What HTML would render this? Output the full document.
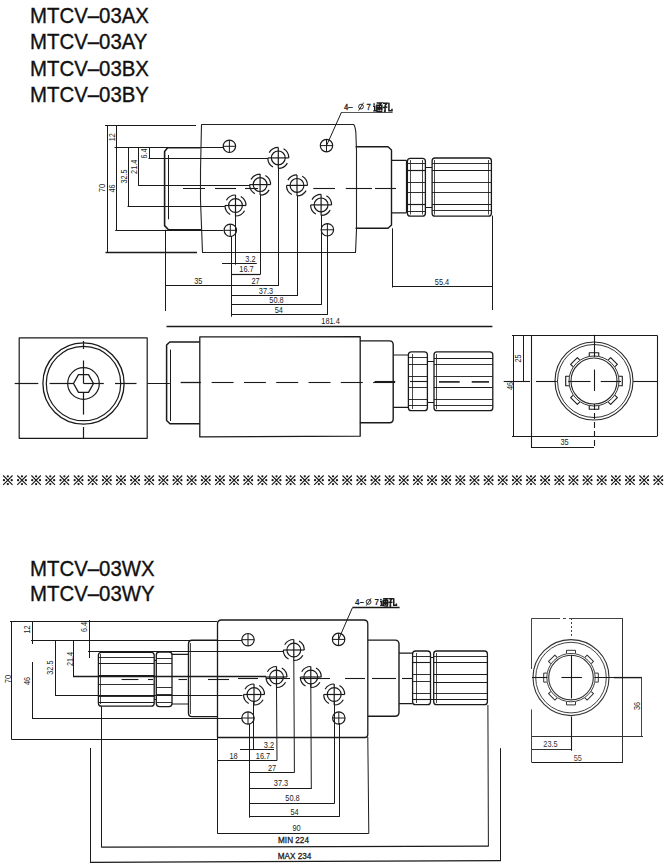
<!DOCTYPE html>
<html><head><meta charset="utf-8"><style>
html,body{margin:0;padding:0;background:#fff;width:665px;height:867px;overflow:hidden}
.t{position:absolute;left:30px;font-family:"Liberation Sans",sans-serif;font-size:21.5px;transform:scaleX(0.948);transform-origin:0 0;color:#111;white-space:nowrap;line-height:1;-webkit-text-stroke:0.35px #111}
svg{position:absolute;left:0;top:0}
</style></head><body>
<svg width="665" height="867" viewBox="0 0 665 867" font-family="Liberation Sans, sans-serif">
<line x1="105.00" y1="125.50" x2="196.00" y2="125.50" stroke="#1a1a1a" stroke-width="1.2"/>
<line x1="107.50" y1="125.30" x2="107.50" y2="252.30" stroke="#1a1a1a" stroke-width="1"/>
<line x1="105.50" y1="252.50" x2="197.00" y2="252.50" stroke="#1a1a1a" stroke-width="1.3"/>
<line x1="116.50" y1="125.30" x2="116.50" y2="230.90" stroke="#1a1a1a" stroke-width="1"/>
<line x1="114.50" y1="147.50" x2="223.00" y2="147.50" stroke="#1a1a1a" stroke-width="1"/>
<line x1="128.50" y1="147.50" x2="128.50" y2="206.00" stroke="#1a1a1a" stroke-width="1"/>
<line x1="127.50" y1="206.50" x2="225.00" y2="206.50" stroke="#1a1a1a" stroke-width="1.1"/>
<line x1="138.50" y1="147.50" x2="138.50" y2="185.80" stroke="#1a1a1a" stroke-width="1"/>
<line x1="138.50" y1="185.50" x2="250.00" y2="185.50" stroke="#1a1a1a" stroke-width="1.2"/>
<line x1="149.50" y1="147.50" x2="149.50" y2="158.40" stroke="#1a1a1a" stroke-width="1"/>
<line x1="148.50" y1="158.50" x2="268.00" y2="158.50" stroke="#1a1a1a" stroke-width="1"/>
<line x1="115.20" y1="230.50" x2="223.50" y2="230.50" stroke="#1a1a1a" stroke-width="1"/>
<text x="0" y="0" transform="translate(104.7 188) rotate(-90) scale(0.89 1)" font-size="8.5" text-anchor="middle" font-weight="normal" fill="#1a1a1a">70</text>
<text x="0" y="0" transform="translate(114.6 137.2) rotate(-90) scale(0.89 1)" font-size="8.2" text-anchor="middle" font-weight="normal" fill="#1a1a1a">12</text>
<text x="0" y="0" transform="translate(114.6 188.5) rotate(-90) scale(0.89 1)" font-size="8.2" text-anchor="middle" font-weight="normal" fill="#1a1a1a">46</text>
<text x="0" y="0" transform="translate(127 176.5) rotate(-90) scale(0.89 1)" font-size="8.2" text-anchor="middle" font-weight="normal" fill="#1a1a1a">32.5</text>
<text x="0" y="0" transform="translate(137 166.8) rotate(-90) scale(0.89 1)" font-size="8.2" text-anchor="middle" font-weight="normal" fill="#1a1a1a">21.4</text>
<text x="0" y="0" transform="translate(146.6 153.4) rotate(-90) scale(0.89 1)" font-size="8.2" text-anchor="middle" font-weight="normal" fill="#1a1a1a">6.4</text>
<path d="M200.5,147.8 L167.6,147.8 L164.6,151.4 L164.6,225.6 L168.5,229.7 L201,229.7" stroke="#1a1a1a" stroke-width="1.6" fill="none" stroke-linejoin="round"/>
<line x1="168.50" y1="155.00" x2="168.50" y2="219.30" stroke="#1a1a1a" stroke-width="1"/>
<line x1="183.00" y1="188.50" x2="205.00" y2="188.50" stroke="#1a1a1a" stroke-width="1"/>
<path d="M201.5,124.5 L353.6,124.5 Q355,125.5 355.8,132 L356.5,150 L356.5,230 L355.5,252.5 L202.5,252.5 L200.5,200 L200.5,170 Z" stroke="#222" stroke-width="1.1" fill="none" stroke-linejoin="round"/>
<line x1="215.00" y1="188.50" x2="236.00" y2="188.50" stroke="#1a1a1a" stroke-width="1.1"/>
<line x1="245.00" y1="188.50" x2="258.00" y2="188.50" stroke="#1a1a1a" stroke-width="1.1"/>
<line x1="313.30" y1="188.50" x2="335.00" y2="188.50" stroke="#1a1a1a" stroke-width="1.1"/>
<line x1="345.80" y1="188.50" x2="372.00" y2="188.50" stroke="#1a1a1a" stroke-width="1.1"/>
<line x1="375.00" y1="188.50" x2="396.00" y2="188.50" stroke="#1a1a1a" stroke-width="1.1"/>
<path d="M355.6,146.8 L388,146.8 L391.5,150 L391.5,225 L388,228.3 L355.6,228.3" stroke="#1a1a1a" stroke-width="1.4" fill="none" stroke-linejoin="round"/>
<path d="M391.5,160.3 L406.4,160.3 M391.5,212.9 L406.4,212.9" stroke="#1a1a1a" stroke-width="1.2" fill="none" stroke-linejoin="round"/>
<path d="M410.4,158.3 L422.4,158.3 Q425.4,158.3 425.4,161.3 L425.4,213.2 Q425.4,216.2 422.4,216.2 L410.4,216.2 Q407.4,216.2 407.4,213.2 L407.4,161.3 Q407.4,158.3 410.4,158.3 Z" stroke="#1a1a1a" stroke-width="1.3" fill="none" stroke-linejoin="round"/>
<line x1="410.50" y1="160.00" x2="410.50" y2="214.50" stroke="#1a1a1a" stroke-width="0.8"/>
<line x1="422.50" y1="160.00" x2="422.50" y2="214.50" stroke="#1a1a1a" stroke-width="0.8"/>
<line x1="406.50" y1="160.30" x2="406.50" y2="212.90" stroke="#1a1a1a" stroke-width="1.2"/>
<line x1="407.40" y1="163.50" x2="425.40" y2="163.50" stroke="#1a1a1a" stroke-width="0.9"/>
<line x1="407.40" y1="182.50" x2="425.40" y2="182.50" stroke="#1a1a1a" stroke-width="0.9"/>
<line x1="407.40" y1="192.50" x2="425.40" y2="192.50" stroke="#1a1a1a" stroke-width="0.9"/>
<line x1="407.40" y1="211.50" x2="425.40" y2="211.50" stroke="#1a1a1a" stroke-width="0.9"/>
<line x1="407.40" y1="170.50" x2="425.40" y2="170.50" stroke="#1a1a1a" stroke-width="1.2"/>
<line x1="407.40" y1="204.50" x2="425.40" y2="204.50" stroke="#1a1a1a" stroke-width="1.2"/>
<line x1="425.40" y1="167.50" x2="432.10" y2="167.50" stroke="#1a1a1a" stroke-width="1"/>
<line x1="425.40" y1="207.50" x2="432.10" y2="207.50" stroke="#1a1a1a" stroke-width="1"/>
<path d="M435.1,158 L488.4,158 Q491.4,158 491.4,161 L491.4,213.2 Q491.4,216.2 488.4,216.2 L435.1,216.2 Q432.1,216.2 432.1,213.2 L432.1,161 Q432.1,158 435.1,158 Z" stroke="#1a1a1a" stroke-width="1.3" fill="none" stroke-linejoin="round"/>
<line x1="434.50" y1="160.00" x2="434.50" y2="214.50" stroke="#1a1a1a" stroke-width="0.8"/>
<line x1="488.50" y1="160.00" x2="488.50" y2="214.50" stroke="#1a1a1a" stroke-width="0.8"/>
<line x1="432.10" y1="163.50" x2="491.40" y2="163.50" stroke="#1a1a1a" stroke-width="0.9"/>
<line x1="432.10" y1="182.50" x2="491.40" y2="182.50" stroke="#1a1a1a" stroke-width="0.9"/>
<line x1="432.10" y1="192.50" x2="491.40" y2="192.50" stroke="#1a1a1a" stroke-width="0.9"/>
<line x1="432.10" y1="210.50" x2="491.40" y2="210.50" stroke="#1a1a1a" stroke-width="0.9"/>
<line x1="432.10" y1="170.50" x2="491.40" y2="170.50" stroke="#1a1a1a" stroke-width="1.2"/>
<line x1="432.10" y1="204.50" x2="491.40" y2="204.50" stroke="#1a1a1a" stroke-width="1.2"/>
<circle cx="229.40" cy="146.30" r="6.20" stroke="#1a1a1a" stroke-width="1.2" fill="none"/>
<line x1="223.20" y1="146.30" x2="235.60" y2="146.30" stroke="#1a1a1a" stroke-width="1.0"/>
<line x1="229.40" y1="140.10" x2="229.40" y2="152.50" stroke="#1a1a1a" stroke-width="1.0"/>
<circle cx="326.50" cy="145.60" r="6.20" stroke="#1a1a1a" stroke-width="1.2" fill="none"/>
<line x1="320.30" y1="145.60" x2="332.70" y2="145.60" stroke="#1a1a1a" stroke-width="1.0"/>
<line x1="326.50" y1="139.40" x2="326.50" y2="151.80" stroke="#1a1a1a" stroke-width="1.0"/>
<circle cx="230.30" cy="230.30" r="6.20" stroke="#1a1a1a" stroke-width="1.2" fill="none"/>
<line x1="224.10" y1="230.30" x2="236.50" y2="230.30" stroke="#1a1a1a" stroke-width="1.0"/>
<line x1="230.30" y1="224.10" x2="230.30" y2="236.50" stroke="#1a1a1a" stroke-width="1.0"/>
<circle cx="327.40" cy="229.80" r="6.20" stroke="#1a1a1a" stroke-width="1.2" fill="none"/>
<line x1="321.20" y1="229.80" x2="333.60" y2="229.80" stroke="#1a1a1a" stroke-width="1.0"/>
<line x1="327.40" y1="223.60" x2="327.40" y2="236.00" stroke="#1a1a1a" stroke-width="1.0"/>
<circle cx="278.30" cy="157.90" r="6.90" stroke="#1a1a1a" stroke-width="1.2" fill="none"/>
<line x1="267.80" y1="157.90" x2="288.80" y2="157.90" stroke="#1a1a1a" stroke-width="1.2"/>
<line x1="278.30" y1="147.40" x2="278.30" y2="168.40" stroke="#1a1a1a" stroke-width="1.2"/>
<path d="M269.21,152.65 A10.5,10.5 0 0 1 278.30,147.40" stroke="#1a1a1a" stroke-width="1.2" fill="none" stroke-linejoin="round"/>
<path d="M283.55,148.81 A10.5,10.5 0 0 1 288.80,157.90" stroke="#1a1a1a" stroke-width="1.2" fill="none" stroke-linejoin="round"/>
<path d="M287.39,163.15 A10.5,10.5 0 0 1 278.30,168.40" stroke="#1a1a1a" stroke-width="1.2" fill="none" stroke-linejoin="round"/>
<path d="M273.05,166.99 A10.5,10.5 0 0 1 267.80,157.90" stroke="#1a1a1a" stroke-width="1.2" fill="none" stroke-linejoin="round"/>
<circle cx="260.10" cy="184.60" r="6.90" stroke="#1a1a1a" stroke-width="1.2" fill="none"/>
<line x1="249.60" y1="184.60" x2="270.60" y2="184.60" stroke="#1a1a1a" stroke-width="1.2"/>
<line x1="260.10" y1="174.10" x2="260.10" y2="195.10" stroke="#1a1a1a" stroke-width="1.2"/>
<path d="M251.01,179.35 A10.5,10.5 0 0 1 260.10,174.10" stroke="#1a1a1a" stroke-width="1.2" fill="none" stroke-linejoin="round"/>
<path d="M265.35,175.51 A10.5,10.5 0 0 1 270.60,184.60" stroke="#1a1a1a" stroke-width="1.2" fill="none" stroke-linejoin="round"/>
<path d="M269.19,189.85 A10.5,10.5 0 0 1 260.10,195.10" stroke="#1a1a1a" stroke-width="1.2" fill="none" stroke-linejoin="round"/>
<path d="M254.85,193.69 A10.5,10.5 0 0 1 249.60,184.60" stroke="#1a1a1a" stroke-width="1.2" fill="none" stroke-linejoin="round"/>
<circle cx="297.00" cy="185.40" r="6.90" stroke="#1a1a1a" stroke-width="1.2" fill="none"/>
<line x1="286.50" y1="185.40" x2="307.50" y2="185.40" stroke="#1a1a1a" stroke-width="1.2"/>
<line x1="297.00" y1="174.90" x2="297.00" y2="195.90" stroke="#1a1a1a" stroke-width="1.2"/>
<path d="M287.91,180.15 A10.5,10.5 0 0 1 297.00,174.90" stroke="#1a1a1a" stroke-width="1.2" fill="none" stroke-linejoin="round"/>
<path d="M302.25,176.31 A10.5,10.5 0 0 1 307.50,185.40" stroke="#1a1a1a" stroke-width="1.2" fill="none" stroke-linejoin="round"/>
<path d="M306.09,190.65 A10.5,10.5 0 0 1 297.00,195.90" stroke="#1a1a1a" stroke-width="1.2" fill="none" stroke-linejoin="round"/>
<path d="M291.75,194.49 A10.5,10.5 0 0 1 286.50,185.40" stroke="#1a1a1a" stroke-width="1.2" fill="none" stroke-linejoin="round"/>
<circle cx="235.50" cy="205.50" r="6.90" stroke="#1a1a1a" stroke-width="1.2" fill="none"/>
<line x1="225.00" y1="205.50" x2="246.00" y2="205.50" stroke="#1a1a1a" stroke-width="1.2"/>
<line x1="235.50" y1="195.00" x2="235.50" y2="216.00" stroke="#1a1a1a" stroke-width="1.2"/>
<path d="M226.41,200.25 A10.5,10.5 0 0 1 235.50,195.00" stroke="#1a1a1a" stroke-width="1.2" fill="none" stroke-linejoin="round"/>
<path d="M240.75,196.41 A10.5,10.5 0 0 1 246.00,205.50" stroke="#1a1a1a" stroke-width="1.2" fill="none" stroke-linejoin="round"/>
<path d="M244.59,210.75 A10.5,10.5 0 0 1 235.50,216.00" stroke="#1a1a1a" stroke-width="1.2" fill="none" stroke-linejoin="round"/>
<path d="M230.25,214.59 A10.5,10.5 0 0 1 225.00,205.50" stroke="#1a1a1a" stroke-width="1.2" fill="none" stroke-linejoin="round"/>
<circle cx="321.10" cy="204.90" r="6.90" stroke="#1a1a1a" stroke-width="1.2" fill="none"/>
<line x1="310.60" y1="204.90" x2="331.60" y2="204.90" stroke="#1a1a1a" stroke-width="1.2"/>
<line x1="321.10" y1="194.40" x2="321.10" y2="215.40" stroke="#1a1a1a" stroke-width="1.2"/>
<path d="M312.01,199.65 A10.5,10.5 0 0 1 321.10,194.40" stroke="#1a1a1a" stroke-width="1.2" fill="none" stroke-linejoin="round"/>
<path d="M326.35,195.81 A10.5,10.5 0 0 1 331.60,204.90" stroke="#1a1a1a" stroke-width="1.2" fill="none" stroke-linejoin="round"/>
<path d="M330.19,210.15 A10.5,10.5 0 0 1 321.10,215.40" stroke="#1a1a1a" stroke-width="1.2" fill="none" stroke-linejoin="round"/>
<path d="M315.85,213.99 A10.5,10.5 0 0 1 310.60,204.90" stroke="#1a1a1a" stroke-width="1.2" fill="none" stroke-linejoin="round"/>
<line x1="326.50" y1="145.60" x2="341.60" y2="112.00" stroke="#1a1a1a" stroke-width="1"/>
<line x1="341.60" y1="112.50" x2="392.60" y2="112.50" stroke="#555" stroke-width="1"/>
<text x="0" y="0" transform="translate(343.9 110.3) scale(0.89 1)" font-size="8.6" text-anchor="start" font-weight="normal" fill="#1a1a1a" stroke="#1a1a1a" stroke-width="0.35">4–</text>
<circle cx="361.00" cy="106.60" r="2.40" stroke="#1a1a1a" stroke-width="0.9" fill="none"/>
<line x1="358.60" y1="110.60" x2="363.60" y2="102.60" stroke="#1a1a1a" stroke-width="0.9"/>
<text x="0" y="0" transform="translate(366.6 110.3) scale(0.89 1)" font-size="8.6" text-anchor="start" font-weight="normal" fill="#1a1a1a" stroke="#1a1a1a" stroke-width="0.25">7</text>
<path transform="translate(372.80 102.30) scale(0.9600)" d="M0.8,1.2 L2,2.4 M0.3,4.2 L2,4.2 L2,8.2 M0.8,9.6 Q2,8 3,8.8 Q5,9.8 10,9.6 M4,0.8 L9,0.8 L7,2.4 M4.2,8.4 L4.2,3 L9.4,3 L9.4,8.6 M6.8,3 L6.8,8.4 M4.2,5.4 L9.4,5.4 M4.2,7 L9.4,7" stroke="#1a1a1a" stroke-width="1.56" fill="none"/>
<path transform="translate(382.59 102.30) scale(0.9600)" d="M0.4,1 L4.6,1 L2.6,3.2 M2.6,3.2 L2.6,9.6 L1.4,9 M0,5.4 L5,5 M6.6,0.4 L6.6,8.8 L9.8,8.8 L9.8,6.6" stroke="#1a1a1a" stroke-width="1.56" fill="none"/>
<line x1="165.50" y1="229.70" x2="165.50" y2="311.00" stroke="#1a1a1a" stroke-width="1"/>
<line x1="231.50" y1="236.00" x2="231.50" y2="316.70" stroke="#1a1a1a" stroke-width="1"/>
<line x1="235.50" y1="216.00" x2="235.50" y2="264.70" stroke="#1a1a1a" stroke-width="1"/>
<line x1="260.50" y1="195.00" x2="260.50" y2="274.30" stroke="#1a1a1a" stroke-width="1"/>
<line x1="278.50" y1="168.00" x2="278.50" y2="285.30" stroke="#1a1a1a" stroke-width="1"/>
<line x1="297.50" y1="196.00" x2="297.50" y2="295.30" stroke="#1a1a1a" stroke-width="1"/>
<line x1="321.50" y1="215.00" x2="321.50" y2="304.80" stroke="#1a1a1a" stroke-width="1"/>
<line x1="327.50" y1="236.00" x2="327.50" y2="314.80" stroke="#1a1a1a" stroke-width="1"/>
<line x1="222.00" y1="263.50" x2="256.80" y2="263.50" stroke="#1a1a1a" stroke-width="1"/>
<line x1="231.00" y1="274.50" x2="260.50" y2="274.50" stroke="#1a1a1a" stroke-width="1.2"/>
<line x1="165.80" y1="285.50" x2="279.00" y2="285.50" stroke="#1a1a1a" stroke-width="1.2"/>
<line x1="231.00" y1="295.50" x2="298.00" y2="295.50" stroke="#1a1a1a" stroke-width="1.2"/>
<line x1="231.00" y1="304.50" x2="321.50" y2="304.50" stroke="#1a1a1a" stroke-width="1.2"/>
<line x1="231.00" y1="314.50" x2="327.40" y2="314.50" stroke="#1a1a1a" stroke-width="1.2"/>
<line x1="166.50" y1="326.50" x2="492.40" y2="326.50" stroke="#1a1a1a" stroke-width="1.3"/>
<line x1="392.50" y1="228.30" x2="392.50" y2="287.50" stroke="#1a1a1a" stroke-width="1"/>
<line x1="492.50" y1="215.60" x2="492.50" y2="310.00" stroke="#1a1a1a" stroke-width="1"/>
<line x1="392.50" y1="286.50" x2="492.40" y2="286.50" stroke="#1a1a1a" stroke-width="1.2"/>
<text x="0" y="0" transform="translate(250.5 262.3) scale(0.89 1)" font-size="8.3" text-anchor="middle" font-weight="normal" fill="#1a1a1a">3.2</text>
<text x="0" y="0" transform="translate(246.5 272.3) scale(0.89 1)" font-size="8.3" text-anchor="middle" font-weight="normal" fill="#1a1a1a">16.7</text>
<text x="0" y="0" transform="translate(198.3 283.5) scale(0.89 1)" font-size="8.3" text-anchor="middle" font-weight="normal" fill="#1a1a1a">35</text>
<text x="0" y="0" transform="translate(255.5 283.5) scale(0.89 1)" font-size="8.3" text-anchor="middle" font-weight="normal" fill="#1a1a1a">27</text>
<text x="0" y="0" transform="translate(266 293.6) scale(0.89 1)" font-size="8.3" text-anchor="middle" font-weight="normal" fill="#1a1a1a">37.3</text>
<text x="0" y="0" transform="translate(276.5 303) scale(0.89 1)" font-size="8.3" text-anchor="middle" font-weight="normal" fill="#1a1a1a">50.8</text>
<text x="0" y="0" transform="translate(278.8 312.8) scale(0.89 1)" font-size="8.3" text-anchor="middle" font-weight="normal" fill="#1a1a1a">54</text>
<text x="0" y="0" transform="translate(330.5 324) scale(0.89 1)" font-size="8.3" text-anchor="middle" font-weight="normal" fill="#1a1a1a">181.4</text>
<text x="0" y="0" transform="translate(442 284.5) scale(0.89 1)" font-size="8.3" text-anchor="middle" font-weight="normal" fill="#1a1a1a">55.4</text>
<path d="M19.2,337.9 L147.2,337.9 L147.2,438.3 L19.2,438.3 Z" stroke="#1a1a1a" stroke-width="1.2" fill="none" stroke-linejoin="round"/>
<circle cx="83.50" cy="383.50" r="40.60" stroke="#1a1a1a" stroke-width="1.3" fill="none"/>
<circle cx="83.50" cy="383.50" r="37.20" stroke="#1a1a1a" stroke-width="1.2" fill="none"/>
<circle cx="83.50" cy="383.50" r="15.80" stroke="#1a1a1a" stroke-width="1.2" fill="none"/>
<path d="M93.50,383.50 L88.50,392.42 L78.50,392.42 L73.50,383.50 L78.50,374.58 L88.50,374.58 Z" stroke="#1a1a1a" stroke-width="1.3" fill="none" stroke-linejoin="round"/>
<line x1="14.70" y1="383.50" x2="38.30" y2="383.50" stroke="#1a1a1a" stroke-width="1.2"/>
<line x1="49.60" y1="383.50" x2="73.20" y2="383.50" stroke="#1a1a1a" stroke-width="1.2"/>
<line x1="83.50" y1="383.50" x2="103.80" y2="383.50" stroke="#1a1a1a" stroke-width="1.2"/>
<line x1="115.00" y1="383.50" x2="136.50" y2="383.50" stroke="#1a1a1a" stroke-width="1.2"/>
<line x1="83.50" y1="341.00" x2="83.50" y2="349.00" stroke="#1a1a1a" stroke-width="1.2"/>
<line x1="83.50" y1="360.50" x2="83.50" y2="383.50" stroke="#1a1a1a" stroke-width="1.2"/>
<line x1="83.50" y1="392.80" x2="83.50" y2="414.60" stroke="#1a1a1a" stroke-width="1.2"/>
<line x1="83.50" y1="427.00" x2="83.50" y2="438.00" stroke="#1a1a1a" stroke-width="1.2"/>
<line x1="147.20" y1="383.50" x2="169.80" y2="383.50" stroke="#1a1a1a" stroke-width="1"/>
<path d="M199.8,342 L169.8,342 L166.6,345 L166.6,420.5 L170,423.8 L199.8,423.8" stroke="#1a1a1a" stroke-width="1.5" fill="none" stroke-linejoin="round"/>
<line x1="170.50" y1="349.60" x2="170.50" y2="421.00" stroke="#1a1a1a" stroke-width="1"/>
<path d="M199.8,336.9 L360.2,336.6 L360.2,436.2 L199.8,436.9 Z" stroke="#1a1a1a" stroke-width="1.3" fill="none" stroke-linejoin="round"/>
<line x1="180.60" y1="382.50" x2="200.80" y2="382.50" stroke="#1a1a1a" stroke-width="1.3"/>
<line x1="211.60" y1="382.50" x2="233.60" y2="382.50" stroke="#1a1a1a" stroke-width="1.1"/>
<line x1="243.90" y1="382.50" x2="265.90" y2="382.50" stroke="#1a1a1a" stroke-width="1.1"/>
<line x1="276.20" y1="382.50" x2="298.20" y2="382.50" stroke="#1a1a1a" stroke-width="1.1"/>
<line x1="308.50" y1="382.50" x2="330.50" y2="382.50" stroke="#1a1a1a" stroke-width="1.1"/>
<line x1="340.80" y1="382.50" x2="362.80" y2="382.50" stroke="#1a1a1a" stroke-width="1.1"/>
<line x1="373.10" y1="382.50" x2="395.10" y2="382.50" stroke="#1a1a1a" stroke-width="1.1"/>
<path d="M359.9,340.9 L389.5,340.9 Q393.2,340.9 393.2,345 L393.2,418.7 Q393.2,422.7 389.5,422.7 L359.9,422.7" stroke="#1a1a1a" stroke-width="1.4" fill="none" stroke-linejoin="round"/>
<path d="M393.2,355 L408.4,355 M393.2,407.4 L408.4,407.4" stroke="#1a1a1a" stroke-width="1.2" fill="none" stroke-linejoin="round"/>
<path d="M411.4,351.8 L424.4,351.8 Q427.4,351.8 427.4,354.8 L427.4,407.7 Q427.4,410.7 424.4,410.7 L411.4,410.7 Q408.4,410.7 408.4,407.7 L408.4,354.8 Q408.4,351.8 411.4,351.8 Z" stroke="#1a1a1a" stroke-width="1.3" fill="none" stroke-linejoin="round"/>
<line x1="412.50" y1="354.00" x2="412.50" y2="409.00" stroke="#1a1a1a" stroke-width="0.8"/>
<line x1="408.40" y1="357.50" x2="427.40" y2="357.50" stroke="#1a1a1a" stroke-width="0.9"/>
<line x1="408.40" y1="364.50" x2="427.40" y2="364.50" stroke="#1a1a1a" stroke-width="0.9"/>
<line x1="408.40" y1="376.50" x2="427.40" y2="376.50" stroke="#1a1a1a" stroke-width="0.9"/>
<line x1="408.40" y1="387.50" x2="427.40" y2="387.50" stroke="#1a1a1a" stroke-width="0.9"/>
<line x1="408.40" y1="399.50" x2="427.40" y2="399.50" stroke="#1a1a1a" stroke-width="0.9"/>
<line x1="408.40" y1="405.50" x2="427.40" y2="405.50" stroke="#1a1a1a" stroke-width="0.9"/>
<line x1="427.40" y1="361.50" x2="434.00" y2="361.50" stroke="#1a1a1a" stroke-width="1"/>
<line x1="427.40" y1="402.50" x2="434.00" y2="402.50" stroke="#1a1a1a" stroke-width="1"/>
<path d="M437,351.8 L489.8,351.8 Q492.8,351.8 492.8,354.8 L492.8,407.7 Q492.8,410.7 489.8,410.7 L437,410.7 Q434,410.7 434,407.7 L434,354.8 Q434,351.8 437,351.8 Z" stroke="#1a1a1a" stroke-width="1.3" fill="none" stroke-linejoin="round"/>
<line x1="436.50" y1="354.00" x2="436.50" y2="409.00" stroke="#1a1a1a" stroke-width="0.8"/>
<line x1="434.00" y1="364.50" x2="492.80" y2="364.50" stroke="#1a1a1a" stroke-width="0.9"/>
<line x1="434.00" y1="376.50" x2="492.80" y2="376.50" stroke="#1a1a1a" stroke-width="0.9"/>
<line x1="434.00" y1="399.50" x2="492.80" y2="399.50" stroke="#1a1a1a" stroke-width="0.9"/>
<line x1="434.00" y1="405.50" x2="492.80" y2="405.50" stroke="#1a1a1a" stroke-width="0.9"/>
<line x1="434.00" y1="358.50" x2="492.80" y2="358.50" stroke="#1a1a1a" stroke-width="1.2"/>
<line x1="434.00" y1="387.50" x2="492.80" y2="387.50" stroke="#1a1a1a" stroke-width="1.2"/>
<line x1="439.00" y1="381.90" x2="459.70" y2="381.90" stroke="#1a1a1a" stroke-width="1.6"/>
<line x1="471.70" y1="381.90" x2="489.00" y2="381.90" stroke="#1a1a1a" stroke-width="1.6"/>
<line x1="410.00" y1="381.50" x2="427.40" y2="381.50" stroke="#1a1a1a" stroke-width="1.1"/>
<line x1="374.60" y1="381.50" x2="395.30" y2="381.50" stroke="#1a1a1a" stroke-width="1.1"/>
<line x1="531.20" y1="335.50" x2="657.40" y2="335.50" stroke="#1a1a1a" stroke-width="1.2"/>
<line x1="531.20" y1="436.50" x2="657.40" y2="436.50" stroke="#1a1a1a" stroke-width="1.2"/>
<line x1="531.50" y1="335.50" x2="531.50" y2="448.00" stroke="#1a1a1a" stroke-width="1.1"/>
<line x1="657.50" y1="335.50" x2="657.50" y2="436.00" stroke="#1a1a1a" stroke-width="1.1"/>
<line x1="512.00" y1="335.50" x2="531.60" y2="335.50" stroke="#1a1a1a" stroke-width="1"/>
<line x1="512.00" y1="436.50" x2="531.60" y2="436.50" stroke="#1a1a1a" stroke-width="1"/>
<line x1="513.50" y1="335.50" x2="513.50" y2="436.00" stroke="#1a1a1a" stroke-width="1"/>
<line x1="523.50" y1="335.50" x2="523.50" y2="381.00" stroke="#1a1a1a" stroke-width="1"/>
<line x1="503.70" y1="381.50" x2="530.00" y2="381.50" stroke="#1a1a1a" stroke-width="1.1"/>
<text x="0" y="0" transform="translate(520.8 358.5) rotate(-90) scale(0.89 1)" font-size="8.2" text-anchor="middle" font-weight="normal" fill="#1a1a1a">25</text>
<text x="0" y="0" transform="translate(512.6 386) rotate(-90) scale(0.89 1)" font-size="8.2" text-anchor="middle" font-weight="normal" fill="#1a1a1a">46</text>
<circle cx="594.00" cy="381.00" r="39.00" stroke="#2a2a2a" stroke-width="1.1" fill="none"/>
<circle cx="594.00" cy="381.00" r="36.50" stroke="#333" stroke-width="1.0" fill="none"/>
<circle cx="594.00" cy="381.00" r="25.00" stroke="#333" stroke-width="1.0" fill="none"/>
<circle cx="594.00" cy="381.00" r="23.00" stroke="#2a2a2a" stroke-width="1.1" fill="none"/>
<path transform="translate(594 381) rotate(0)" d="M-4.75,-25 L-4.75,-28.3 L4.75,-28.3 L4.75,-25" stroke="#1a1a1a" stroke-width="1.1" fill="none" stroke-linejoin="round"/>
<path transform="translate(594 381) rotate(45)" d="M-4.75,-25 L-4.75,-28.3 L4.75,-28.3 L4.75,-25" stroke="#1a1a1a" stroke-width="1.1" fill="none" stroke-linejoin="round"/>
<path transform="translate(594 381) rotate(90)" d="M-4.75,-25 L-4.75,-28.3 L4.75,-28.3 L4.75,-25" stroke="#1a1a1a" stroke-width="1.1" fill="none" stroke-linejoin="round"/>
<path transform="translate(594 381) rotate(135)" d="M-4.75,-25 L-4.75,-28.3 L4.75,-28.3 L4.75,-25" stroke="#1a1a1a" stroke-width="1.1" fill="none" stroke-linejoin="round"/>
<path transform="translate(594 381) rotate(180)" d="M-4.75,-25 L-4.75,-28.3 L4.75,-28.3 L4.75,-25" stroke="#1a1a1a" stroke-width="1.1" fill="none" stroke-linejoin="round"/>
<path transform="translate(594 381) rotate(225)" d="M-4.75,-25 L-4.75,-28.3 L4.75,-28.3 L4.75,-25" stroke="#1a1a1a" stroke-width="1.1" fill="none" stroke-linejoin="round"/>
<path transform="translate(594 381) rotate(270)" d="M-4.75,-25 L-4.75,-28.3 L4.75,-28.3 L4.75,-25" stroke="#1a1a1a" stroke-width="1.1" fill="none" stroke-linejoin="round"/>
<path transform="translate(594 381) rotate(315)" d="M-4.75,-25 L-4.75,-28.3 L4.75,-28.3 L4.75,-25" stroke="#1a1a1a" stroke-width="1.1" fill="none" stroke-linejoin="round"/>
<line x1="536.00" y1="381.50" x2="556.80" y2="381.50" stroke="#1a1a1a" stroke-width="1.1"/>
<line x1="568.30" y1="381.50" x2="590.60" y2="381.50" stroke="#1a1a1a" stroke-width="1.1"/>
<line x1="600.70" y1="381.50" x2="621.00" y2="381.50" stroke="#1a1a1a" stroke-width="1.1"/>
<line x1="633.20" y1="381.50" x2="657.40" y2="381.50" stroke="#1a1a1a" stroke-width="1.1"/>
<line x1="594.50" y1="334.80" x2="594.50" y2="357.00" stroke="#1a1a1a" stroke-width="1.1"/>
<line x1="594.50" y1="369.50" x2="594.50" y2="391.00" stroke="#1a1a1a" stroke-width="1.1"/>
<line x1="594.50" y1="404.00" x2="594.50" y2="447.90" stroke="#1a1a1a" stroke-width="1.1" stroke-dasharray="6,3"/>
<line x1="531.60" y1="447.50" x2="594.00" y2="447.50" stroke="#1a1a1a" stroke-width="1.1"/>
<text x="0" y="0" transform="translate(564.5 444.6) scale(0.89 1)" font-size="8.3" text-anchor="middle" font-weight="normal" fill="#1a1a1a">35</text>
<path d="M3.13,475.50 L12.53,484.90 M12.53,475.50 L3.13,484.90" stroke="#1a1a1a" stroke-width="1.15" fill="none"/>
<path d="M7.83,476.30 h0.01 M7.83,484.10 h0.01 M3.93,480.20 h0.01 M11.73,480.20 h0.01" stroke="#1a1a1a" stroke-width="2.3" stroke-linecap="round" fill="none"/>
<path d="M17.27,475.50 L26.67,484.90 M26.67,475.50 L17.27,484.90" stroke="#1a1a1a" stroke-width="1.15" fill="none"/>
<path d="M21.97,476.30 h0.01 M21.97,484.10 h0.01 M18.07,480.20 h0.01 M25.87,480.20 h0.01" stroke="#1a1a1a" stroke-width="2.3" stroke-linecap="round" fill="none"/>
<path d="M31.41,475.50 L40.81,484.90 M40.81,475.50 L31.41,484.90" stroke="#1a1a1a" stroke-width="1.15" fill="none"/>
<path d="M36.11,476.30 h0.01 M36.11,484.10 h0.01 M32.21,480.20 h0.01 M40.01,480.20 h0.01" stroke="#1a1a1a" stroke-width="2.3" stroke-linecap="round" fill="none"/>
<path d="M45.55,475.50 L54.95,484.90 M54.95,475.50 L45.55,484.90" stroke="#1a1a1a" stroke-width="1.15" fill="none"/>
<path d="M50.25,476.30 h0.01 M50.25,484.10 h0.01 M46.35,480.20 h0.01 M54.15,480.20 h0.01" stroke="#1a1a1a" stroke-width="2.3" stroke-linecap="round" fill="none"/>
<path d="M59.69,475.50 L69.09,484.90 M69.09,475.50 L59.69,484.90" stroke="#1a1a1a" stroke-width="1.15" fill="none"/>
<path d="M64.39,476.30 h0.01 M64.39,484.10 h0.01 M60.49,480.20 h0.01 M68.29,480.20 h0.01" stroke="#1a1a1a" stroke-width="2.3" stroke-linecap="round" fill="none"/>
<path d="M73.83,475.50 L83.23,484.90 M83.23,475.50 L73.83,484.90" stroke="#1a1a1a" stroke-width="1.15" fill="none"/>
<path d="M78.53,476.30 h0.01 M78.53,484.10 h0.01 M74.63,480.20 h0.01 M82.43,480.20 h0.01" stroke="#1a1a1a" stroke-width="2.3" stroke-linecap="round" fill="none"/>
<path d="M87.97,475.50 L97.37,484.90 M97.37,475.50 L87.97,484.90" stroke="#1a1a1a" stroke-width="1.15" fill="none"/>
<path d="M92.67,476.30 h0.01 M92.67,484.10 h0.01 M88.77,480.20 h0.01 M96.57,480.20 h0.01" stroke="#1a1a1a" stroke-width="2.3" stroke-linecap="round" fill="none"/>
<path d="M102.11,475.50 L111.51,484.90 M111.51,475.50 L102.11,484.90" stroke="#1a1a1a" stroke-width="1.15" fill="none"/>
<path d="M106.81,476.30 h0.01 M106.81,484.10 h0.01 M102.91,480.20 h0.01 M110.71,480.20 h0.01" stroke="#1a1a1a" stroke-width="2.3" stroke-linecap="round" fill="none"/>
<path d="M116.25,475.50 L125.65,484.90 M125.65,475.50 L116.25,484.90" stroke="#1a1a1a" stroke-width="1.15" fill="none"/>
<path d="M120.95,476.30 h0.01 M120.95,484.10 h0.01 M117.05,480.20 h0.01 M124.85,480.20 h0.01" stroke="#1a1a1a" stroke-width="2.3" stroke-linecap="round" fill="none"/>
<path d="M130.39,475.50 L139.79,484.90 M139.79,475.50 L130.39,484.90" stroke="#1a1a1a" stroke-width="1.15" fill="none"/>
<path d="M135.09,476.30 h0.01 M135.09,484.10 h0.01 M131.19,480.20 h0.01 M138.99,480.20 h0.01" stroke="#1a1a1a" stroke-width="2.3" stroke-linecap="round" fill="none"/>
<path d="M144.53,475.50 L153.93,484.90 M153.93,475.50 L144.53,484.90" stroke="#1a1a1a" stroke-width="1.15" fill="none"/>
<path d="M149.23,476.30 h0.01 M149.23,484.10 h0.01 M145.33,480.20 h0.01 M153.13,480.20 h0.01" stroke="#1a1a1a" stroke-width="2.3" stroke-linecap="round" fill="none"/>
<path d="M158.67,475.50 L168.07,484.90 M168.07,475.50 L158.67,484.90" stroke="#1a1a1a" stroke-width="1.15" fill="none"/>
<path d="M163.37,476.30 h0.01 M163.37,484.10 h0.01 M159.47,480.20 h0.01 M167.27,480.20 h0.01" stroke="#1a1a1a" stroke-width="2.3" stroke-linecap="round" fill="none"/>
<path d="M172.81,475.50 L182.21,484.90 M182.21,475.50 L172.81,484.90" stroke="#1a1a1a" stroke-width="1.15" fill="none"/>
<path d="M177.51,476.30 h0.01 M177.51,484.10 h0.01 M173.61,480.20 h0.01 M181.41,480.20 h0.01" stroke="#1a1a1a" stroke-width="2.3" stroke-linecap="round" fill="none"/>
<path d="M186.95,475.50 L196.35,484.90 M196.35,475.50 L186.95,484.90" stroke="#1a1a1a" stroke-width="1.15" fill="none"/>
<path d="M191.65,476.30 h0.01 M191.65,484.10 h0.01 M187.75,480.20 h0.01 M195.55,480.20 h0.01" stroke="#1a1a1a" stroke-width="2.3" stroke-linecap="round" fill="none"/>
<path d="M201.09,475.50 L210.49,484.90 M210.49,475.50 L201.09,484.90" stroke="#1a1a1a" stroke-width="1.15" fill="none"/>
<path d="M205.79,476.30 h0.01 M205.79,484.10 h0.01 M201.89,480.20 h0.01 M209.69,480.20 h0.01" stroke="#1a1a1a" stroke-width="2.3" stroke-linecap="round" fill="none"/>
<path d="M215.23,475.50 L224.63,484.90 M224.63,475.50 L215.23,484.90" stroke="#1a1a1a" stroke-width="1.15" fill="none"/>
<path d="M219.93,476.30 h0.01 M219.93,484.10 h0.01 M216.03,480.20 h0.01 M223.83,480.20 h0.01" stroke="#1a1a1a" stroke-width="2.3" stroke-linecap="round" fill="none"/>
<path d="M229.37,475.50 L238.77,484.90 M238.77,475.50 L229.37,484.90" stroke="#1a1a1a" stroke-width="1.15" fill="none"/>
<path d="M234.07,476.30 h0.01 M234.07,484.10 h0.01 M230.17,480.20 h0.01 M237.97,480.20 h0.01" stroke="#1a1a1a" stroke-width="2.3" stroke-linecap="round" fill="none"/>
<path d="M243.51,475.50 L252.91,484.90 M252.91,475.50 L243.51,484.90" stroke="#1a1a1a" stroke-width="1.15" fill="none"/>
<path d="M248.21,476.30 h0.01 M248.21,484.10 h0.01 M244.31,480.20 h0.01 M252.11,480.20 h0.01" stroke="#1a1a1a" stroke-width="2.3" stroke-linecap="round" fill="none"/>
<path d="M257.65,475.50 L267.05,484.90 M267.05,475.50 L257.65,484.90" stroke="#1a1a1a" stroke-width="1.15" fill="none"/>
<path d="M262.35,476.30 h0.01 M262.35,484.10 h0.01 M258.45,480.20 h0.01 M266.25,480.20 h0.01" stroke="#1a1a1a" stroke-width="2.3" stroke-linecap="round" fill="none"/>
<path d="M271.79,475.50 L281.19,484.90 M281.19,475.50 L271.79,484.90" stroke="#1a1a1a" stroke-width="1.15" fill="none"/>
<path d="M276.49,476.30 h0.01 M276.49,484.10 h0.01 M272.59,480.20 h0.01 M280.39,480.20 h0.01" stroke="#1a1a1a" stroke-width="2.3" stroke-linecap="round" fill="none"/>
<path d="M285.93,475.50 L295.33,484.90 M295.33,475.50 L285.93,484.90" stroke="#1a1a1a" stroke-width="1.15" fill="none"/>
<path d="M290.63,476.30 h0.01 M290.63,484.10 h0.01 M286.73,480.20 h0.01 M294.53,480.20 h0.01" stroke="#1a1a1a" stroke-width="2.3" stroke-linecap="round" fill="none"/>
<path d="M300.07,475.50 L309.47,484.90 M309.47,475.50 L300.07,484.90" stroke="#1a1a1a" stroke-width="1.15" fill="none"/>
<path d="M304.77,476.30 h0.01 M304.77,484.10 h0.01 M300.87,480.20 h0.01 M308.67,480.20 h0.01" stroke="#1a1a1a" stroke-width="2.3" stroke-linecap="round" fill="none"/>
<path d="M314.21,475.50 L323.61,484.90 M323.61,475.50 L314.21,484.90" stroke="#1a1a1a" stroke-width="1.15" fill="none"/>
<path d="M318.91,476.30 h0.01 M318.91,484.10 h0.01 M315.01,480.20 h0.01 M322.81,480.20 h0.01" stroke="#1a1a1a" stroke-width="2.3" stroke-linecap="round" fill="none"/>
<path d="M328.35,475.50 L337.75,484.90 M337.75,475.50 L328.35,484.90" stroke="#1a1a1a" stroke-width="1.15" fill="none"/>
<path d="M333.05,476.30 h0.01 M333.05,484.10 h0.01 M329.15,480.20 h0.01 M336.95,480.20 h0.01" stroke="#1a1a1a" stroke-width="2.3" stroke-linecap="round" fill="none"/>
<path d="M342.49,475.50 L351.89,484.90 M351.89,475.50 L342.49,484.90" stroke="#1a1a1a" stroke-width="1.15" fill="none"/>
<path d="M347.19,476.30 h0.01 M347.19,484.10 h0.01 M343.29,480.20 h0.01 M351.09,480.20 h0.01" stroke="#1a1a1a" stroke-width="2.3" stroke-linecap="round" fill="none"/>
<path d="M356.63,475.50 L366.03,484.90 M366.03,475.50 L356.63,484.90" stroke="#1a1a1a" stroke-width="1.15" fill="none"/>
<path d="M361.33,476.30 h0.01 M361.33,484.10 h0.01 M357.43,480.20 h0.01 M365.23,480.20 h0.01" stroke="#1a1a1a" stroke-width="2.3" stroke-linecap="round" fill="none"/>
<path d="M370.77,475.50 L380.17,484.90 M380.17,475.50 L370.77,484.90" stroke="#1a1a1a" stroke-width="1.15" fill="none"/>
<path d="M375.47,476.30 h0.01 M375.47,484.10 h0.01 M371.57,480.20 h0.01 M379.37,480.20 h0.01" stroke="#1a1a1a" stroke-width="2.3" stroke-linecap="round" fill="none"/>
<path d="M384.91,475.50 L394.31,484.90 M394.31,475.50 L384.91,484.90" stroke="#1a1a1a" stroke-width="1.15" fill="none"/>
<path d="M389.61,476.30 h0.01 M389.61,484.10 h0.01 M385.71,480.20 h0.01 M393.51,480.20 h0.01" stroke="#1a1a1a" stroke-width="2.3" stroke-linecap="round" fill="none"/>
<path d="M399.05,475.50 L408.45,484.90 M408.45,475.50 L399.05,484.90" stroke="#1a1a1a" stroke-width="1.15" fill="none"/>
<path d="M403.75,476.30 h0.01 M403.75,484.10 h0.01 M399.85,480.20 h0.01 M407.65,480.20 h0.01" stroke="#1a1a1a" stroke-width="2.3" stroke-linecap="round" fill="none"/>
<path d="M413.19,475.50 L422.59,484.90 M422.59,475.50 L413.19,484.90" stroke="#1a1a1a" stroke-width="1.15" fill="none"/>
<path d="M417.89,476.30 h0.01 M417.89,484.10 h0.01 M413.99,480.20 h0.01 M421.79,480.20 h0.01" stroke="#1a1a1a" stroke-width="2.3" stroke-linecap="round" fill="none"/>
<path d="M427.33,475.50 L436.73,484.90 M436.73,475.50 L427.33,484.90" stroke="#1a1a1a" stroke-width="1.15" fill="none"/>
<path d="M432.03,476.30 h0.01 M432.03,484.10 h0.01 M428.13,480.20 h0.01 M435.93,480.20 h0.01" stroke="#1a1a1a" stroke-width="2.3" stroke-linecap="round" fill="none"/>
<path d="M441.47,475.50 L450.87,484.90 M450.87,475.50 L441.47,484.90" stroke="#1a1a1a" stroke-width="1.15" fill="none"/>
<path d="M446.17,476.30 h0.01 M446.17,484.10 h0.01 M442.27,480.20 h0.01 M450.07,480.20 h0.01" stroke="#1a1a1a" stroke-width="2.3" stroke-linecap="round" fill="none"/>
<path d="M455.61,475.50 L465.01,484.90 M465.01,475.50 L455.61,484.90" stroke="#1a1a1a" stroke-width="1.15" fill="none"/>
<path d="M460.31,476.30 h0.01 M460.31,484.10 h0.01 M456.41,480.20 h0.01 M464.21,480.20 h0.01" stroke="#1a1a1a" stroke-width="2.3" stroke-linecap="round" fill="none"/>
<path d="M469.75,475.50 L479.15,484.90 M479.15,475.50 L469.75,484.90" stroke="#1a1a1a" stroke-width="1.15" fill="none"/>
<path d="M474.45,476.30 h0.01 M474.45,484.10 h0.01 M470.55,480.20 h0.01 M478.35,480.20 h0.01" stroke="#1a1a1a" stroke-width="2.3" stroke-linecap="round" fill="none"/>
<path d="M483.89,475.50 L493.29,484.90 M493.29,475.50 L483.89,484.90" stroke="#1a1a1a" stroke-width="1.15" fill="none"/>
<path d="M488.59,476.30 h0.01 M488.59,484.10 h0.01 M484.69,480.20 h0.01 M492.49,480.20 h0.01" stroke="#1a1a1a" stroke-width="2.3" stroke-linecap="round" fill="none"/>
<path d="M498.03,475.50 L507.43,484.90 M507.43,475.50 L498.03,484.90" stroke="#1a1a1a" stroke-width="1.15" fill="none"/>
<path d="M502.73,476.30 h0.01 M502.73,484.10 h0.01 M498.83,480.20 h0.01 M506.63,480.20 h0.01" stroke="#1a1a1a" stroke-width="2.3" stroke-linecap="round" fill="none"/>
<path d="M512.17,475.50 L521.57,484.90 M521.57,475.50 L512.17,484.90" stroke="#1a1a1a" stroke-width="1.15" fill="none"/>
<path d="M516.87,476.30 h0.01 M516.87,484.10 h0.01 M512.97,480.20 h0.01 M520.77,480.20 h0.01" stroke="#1a1a1a" stroke-width="2.3" stroke-linecap="round" fill="none"/>
<path d="M526.31,475.50 L535.71,484.90 M535.71,475.50 L526.31,484.90" stroke="#1a1a1a" stroke-width="1.15" fill="none"/>
<path d="M531.01,476.30 h0.01 M531.01,484.10 h0.01 M527.11,480.20 h0.01 M534.91,480.20 h0.01" stroke="#1a1a1a" stroke-width="2.3" stroke-linecap="round" fill="none"/>
<path d="M540.45,475.50 L549.85,484.90 M549.85,475.50 L540.45,484.90" stroke="#1a1a1a" stroke-width="1.15" fill="none"/>
<path d="M545.15,476.30 h0.01 M545.15,484.10 h0.01 M541.25,480.20 h0.01 M549.05,480.20 h0.01" stroke="#1a1a1a" stroke-width="2.3" stroke-linecap="round" fill="none"/>
<path d="M554.59,475.50 L563.99,484.90 M563.99,475.50 L554.59,484.90" stroke="#1a1a1a" stroke-width="1.15" fill="none"/>
<path d="M559.29,476.30 h0.01 M559.29,484.10 h0.01 M555.39,480.20 h0.01 M563.19,480.20 h0.01" stroke="#1a1a1a" stroke-width="2.3" stroke-linecap="round" fill="none"/>
<path d="M568.73,475.50 L578.13,484.90 M578.13,475.50 L568.73,484.90" stroke="#1a1a1a" stroke-width="1.15" fill="none"/>
<path d="M573.43,476.30 h0.01 M573.43,484.10 h0.01 M569.53,480.20 h0.01 M577.33,480.20 h0.01" stroke="#1a1a1a" stroke-width="2.3" stroke-linecap="round" fill="none"/>
<path d="M582.87,475.50 L592.27,484.90 M592.27,475.50 L582.87,484.90" stroke="#1a1a1a" stroke-width="1.15" fill="none"/>
<path d="M587.57,476.30 h0.01 M587.57,484.10 h0.01 M583.67,480.20 h0.01 M591.47,480.20 h0.01" stroke="#1a1a1a" stroke-width="2.3" stroke-linecap="round" fill="none"/>
<path d="M597.01,475.50 L606.41,484.90 M606.41,475.50 L597.01,484.90" stroke="#1a1a1a" stroke-width="1.15" fill="none"/>
<path d="M601.71,476.30 h0.01 M601.71,484.10 h0.01 M597.81,480.20 h0.01 M605.61,480.20 h0.01" stroke="#1a1a1a" stroke-width="2.3" stroke-linecap="round" fill="none"/>
<path d="M611.15,475.50 L620.55,484.90 M620.55,475.50 L611.15,484.90" stroke="#1a1a1a" stroke-width="1.15" fill="none"/>
<path d="M615.85,476.30 h0.01 M615.85,484.10 h0.01 M611.95,480.20 h0.01 M619.75,480.20 h0.01" stroke="#1a1a1a" stroke-width="2.3" stroke-linecap="round" fill="none"/>
<path d="M625.29,475.50 L634.69,484.90 M634.69,475.50 L625.29,484.90" stroke="#1a1a1a" stroke-width="1.15" fill="none"/>
<path d="M629.99,476.30 h0.01 M629.99,484.10 h0.01 M626.09,480.20 h0.01 M633.89,480.20 h0.01" stroke="#1a1a1a" stroke-width="2.3" stroke-linecap="round" fill="none"/>
<path d="M639.43,475.50 L648.83,484.90 M648.83,475.50 L639.43,484.90" stroke="#1a1a1a" stroke-width="1.15" fill="none"/>
<path d="M644.13,476.30 h0.01 M644.13,484.10 h0.01 M640.23,480.20 h0.01 M648.03,480.20 h0.01" stroke="#1a1a1a" stroke-width="2.3" stroke-linecap="round" fill="none"/>
<path d="M653.57,475.50 L662.97,484.90 M662.97,475.50 L653.57,484.90" stroke="#1a1a1a" stroke-width="1.15" fill="none"/>
<path d="M658.27,476.30 h0.01 M658.27,484.10 h0.01 M654.37,480.20 h0.01 M662.17,480.20 h0.01" stroke="#1a1a1a" stroke-width="2.3" stroke-linecap="round" fill="none"/>
<line x1="10.00" y1="621.50" x2="217.00" y2="621.50" stroke="#1a1a1a" stroke-width="1"/>
<line x1="11.50" y1="621.10" x2="11.50" y2="739.00" stroke="#1a1a1a" stroke-width="1"/>
<line x1="11.30" y1="739.50" x2="217.00" y2="739.50" stroke="#1a1a1a" stroke-width="1.1"/>
<line x1="32.50" y1="621.10" x2="32.50" y2="644.00" stroke="#1a1a1a" stroke-width="1"/>
<line x1="31.00" y1="640.50" x2="242.00" y2="640.50" stroke="#1a1a1a" stroke-width="1.1"/>
<line x1="32.50" y1="662.00" x2="32.50" y2="719.00" stroke="#1a1a1a" stroke-width="1"/>
<line x1="32.30" y1="718.50" x2="242.00" y2="718.50" stroke="#1a1a1a" stroke-width="1.2"/>
<line x1="55.50" y1="640.80" x2="55.50" y2="695.60" stroke="#1a1a1a" stroke-width="1"/>
<line x1="55.00" y1="695.50" x2="242.50" y2="695.50" stroke="#1a1a1a" stroke-width="1.1"/>
<line x1="73.50" y1="640.80" x2="73.50" y2="677.00" stroke="#1a1a1a" stroke-width="1"/>
<line x1="73.00" y1="676.50" x2="266.00" y2="676.50" stroke="#1a1a1a" stroke-width="1.3"/>
<line x1="89.50" y1="620.00" x2="89.50" y2="658.00" stroke="#1a1a1a" stroke-width="1"/>
<line x1="88.00" y1="651.50" x2="283.50" y2="651.50" stroke="#1a1a1a" stroke-width="1.1"/>
<text x="0" y="0" transform="translate(10.6 679) rotate(-90) scale(0.89 1)" font-size="8.5" text-anchor="middle" font-weight="normal" fill="#1a1a1a">70</text>
<text x="0" y="0" transform="translate(29.6 629.5) rotate(-90) scale(0.89 1)" font-size="8.2" text-anchor="middle" font-weight="normal" fill="#1a1a1a">12</text>
<text x="0" y="0" transform="translate(29.6 681) rotate(-90) scale(0.89 1)" font-size="8.2" text-anchor="middle" font-weight="normal" fill="#1a1a1a">46</text>
<text x="0" y="0" transform="translate(53.2 667.6) rotate(-90) scale(0.89 1)" font-size="8.2" text-anchor="middle" font-weight="normal" fill="#1a1a1a">32.5</text>
<text x="0" y="0" transform="translate(72.6 659) rotate(-90) scale(0.89 1)" font-size="8.2" text-anchor="middle" font-weight="normal" fill="#1a1a1a">21.4</text>
<text x="0" y="0" transform="translate(87.3 627) rotate(-90) scale(0.89 1)" font-size="8.2" text-anchor="middle" font-weight="normal" fill="#1a1a1a">6.4</text>
<path d="M101.4,652.3 L151.2,652.3 Q154.2,652.3 154.2,655.3 L154.2,703.2 Q154.2,706.2 151.2,706.2 L101.4,706.2 Q98.4,706.2 98.4,703.2 L98.4,655.3 Q98.4,652.3 101.4,652.3 Z" stroke="#1a1a1a" stroke-width="1.3" fill="none" stroke-linejoin="round"/>
<line x1="100.50" y1="654.00" x2="100.50" y2="704.00" stroke="#1a1a1a" stroke-width="0.8"/>
<line x1="98.40" y1="657.50" x2="154.20" y2="657.50" stroke="#1a1a1a" stroke-width="0.9"/>
<line x1="98.40" y1="684.50" x2="154.20" y2="684.50" stroke="#1a1a1a" stroke-width="0.9"/>
<line x1="98.40" y1="696.50" x2="154.20" y2="696.50" stroke="#1a1a1a" stroke-width="0.9"/>
<line x1="98.40" y1="663.50" x2="154.20" y2="663.50" stroke="#1a1a1a" stroke-width="1.2"/>
<line x1="98.40" y1="675.50" x2="154.20" y2="675.50" stroke="#1a1a1a" stroke-width="1.2"/>
<line x1="98.40" y1="702.50" x2="154.20" y2="702.50" stroke="#1a1a1a" stroke-width="1.2"/>
<path d="M159.3,652 L169,652 Q172,652 172,655 L172,703.6 Q172,706.6 169,706.6 L159.3,706.6 Q156.3,706.6 156.3,703.6 L156.3,655 Q156.3,652 159.3,652 Z" stroke="#1a1a1a" stroke-width="1.3" fill="none" stroke-linejoin="round"/>
<line x1="156.30" y1="658.50" x2="172.00" y2="658.50" stroke="#1a1a1a" stroke-width="0.9"/>
<line x1="156.30" y1="663.50" x2="172.00" y2="663.50" stroke="#1a1a1a" stroke-width="0.9"/>
<line x1="156.30" y1="687.50" x2="172.00" y2="687.50" stroke="#1a1a1a" stroke-width="0.9"/>
<line x1="156.30" y1="694.50" x2="172.00" y2="694.50" stroke="#1a1a1a" stroke-width="0.9"/>
<line x1="156.30" y1="702.50" x2="172.00" y2="702.50" stroke="#1a1a1a" stroke-width="0.9"/>
<line x1="154.20" y1="660.50" x2="156.30" y2="660.50" stroke="#1a1a1a" stroke-width="1"/>
<line x1="154.20" y1="699.50" x2="156.30" y2="699.50" stroke="#1a1a1a" stroke-width="1"/>
<path d="M172,654.4 L188,654.4 M172,704 L188,704" stroke="#1a1a1a" stroke-width="1.2" fill="none" stroke-linejoin="round"/>
<path d="M217.4,640.3 L192,640.3 Q188.5,640.3 188.5,644 L188.5,713 Q188.5,716.6 192,716.6 L217.4,716.6" stroke="#1a1a1a" stroke-width="1.4" fill="none" stroke-linejoin="round"/>
<line x1="190.50" y1="643.00" x2="190.50" y2="714.00" stroke="#1a1a1a" stroke-width="0.8"/>
<line x1="121.60" y1="679.50" x2="138.40" y2="679.50" stroke="#1a1a1a" stroke-width="1.1"/>
<line x1="148.00" y1="679.50" x2="153.00" y2="679.50" stroke="#1a1a1a" stroke-width="1.1"/>
<line x1="178.50" y1="679.50" x2="187.00" y2="679.50" stroke="#1a1a1a" stroke-width="1.1"/>
<line x1="208.00" y1="679.50" x2="229.00" y2="679.50" stroke="#1a1a1a" stroke-width="1.1"/>
<path d="M217.5,737.5 L217.5,624 Q217.5,620 221.5,620 L363.8,620 Q367.8,620 367.8,624 L367.8,734.5 Q367.8,737.5 364.8,737.5 Z" stroke="#1a1a1a" stroke-width="1.3" fill="none" stroke-linejoin="round"/>
<line x1="238.00" y1="678.50" x2="258.00" y2="678.50" stroke="#1a1a1a" stroke-width="1.1"/>
<line x1="266.00" y1="678.50" x2="290.00" y2="678.50" stroke="#1a1a1a" stroke-width="1.1"/>
<line x1="300.00" y1="678.50" x2="330.00" y2="678.50" stroke="#1a1a1a" stroke-width="1.1"/>
<line x1="345.00" y1="678.50" x2="365.00" y2="678.50" stroke="#1a1a1a" stroke-width="1.1"/>
<line x1="372.00" y1="678.50" x2="396.00" y2="678.50" stroke="#1a1a1a" stroke-width="1.1"/>
<line x1="402.00" y1="678.50" x2="412.00" y2="678.50" stroke="#1a1a1a" stroke-width="1.1"/>
<path d="M367.8,640.1 L395,640.1 Q399,640.1 399,644.1 L399,712.3 Q399,716.3 395,716.3 L367.8,716.3" stroke="#1a1a1a" stroke-width="1.4" fill="none" stroke-linejoin="round"/>
<path d="M399,653.2 L412.6,653.2 M399,703.7 L412.6,703.7" stroke="#1a1a1a" stroke-width="1.2" fill="none" stroke-linejoin="round"/>
<path d="M415.6,651 L427.5,651 Q430.5,651 430.5,654 L430.5,701.7 Q430.5,704.7 427.5,704.7 L415.6,704.7 Q412.6,704.7 412.6,701.7 L412.6,654 Q412.6,651 415.6,651 Z" stroke="#1a1a1a" stroke-width="1.3" fill="none" stroke-linejoin="round"/>
<line x1="416.50" y1="653.00" x2="416.50" y2="703.00" stroke="#1a1a1a" stroke-width="0.8"/>
<line x1="412.60" y1="656.50" x2="430.50" y2="656.50" stroke="#1a1a1a" stroke-width="0.9"/>
<line x1="412.60" y1="674.50" x2="430.50" y2="674.50" stroke="#1a1a1a" stroke-width="0.9"/>
<line x1="412.60" y1="681.50" x2="430.50" y2="681.50" stroke="#1a1a1a" stroke-width="0.9"/>
<line x1="412.60" y1="693.50" x2="430.50" y2="693.50" stroke="#1a1a1a" stroke-width="0.9"/>
<line x1="412.60" y1="662.50" x2="430.50" y2="662.50" stroke="#1a1a1a" stroke-width="1.1"/>
<line x1="412.60" y1="699.50" x2="430.50" y2="699.50" stroke="#1a1a1a" stroke-width="1.1"/>
<path d="M436.7,651 L484.4,651 Q487.4,651 487.4,654 L487.4,701.7 Q487.4,704.7 484.4,704.7 L436.7,704.7 Q433.7,704.7 433.7,701.7 L433.7,654 Q433.7,651 436.7,651 Z" stroke="#1a1a1a" stroke-width="1.3" fill="none" stroke-linejoin="round"/>
<line x1="436.50" y1="653.00" x2="436.50" y2="703.00" stroke="#1a1a1a" stroke-width="0.8"/>
<line x1="433.70" y1="656.50" x2="487.40" y2="656.50" stroke="#1a1a1a" stroke-width="0.9"/>
<line x1="433.70" y1="693.50" x2="487.40" y2="693.50" stroke="#1a1a1a" stroke-width="0.9"/>
<line x1="433.70" y1="662.50" x2="487.40" y2="662.50" stroke="#1a1a1a" stroke-width="1.2"/>
<line x1="433.70" y1="674.50" x2="487.40" y2="674.50" stroke="#1a1a1a" stroke-width="1.2"/>
<line x1="433.70" y1="682.50" x2="487.40" y2="682.50" stroke="#1a1a1a" stroke-width="1.2"/>
<line x1="433.70" y1="699.50" x2="487.40" y2="699.50" stroke="#1a1a1a" stroke-width="1.2"/>
<line x1="430.50" y1="657.50" x2="433.70" y2="657.50" stroke="#1a1a1a" stroke-width="1"/>
<line x1="430.50" y1="699.50" x2="433.70" y2="699.50" stroke="#1a1a1a" stroke-width="1"/>
<circle cx="248.00" cy="639.70" r="6.20" stroke="#1a1a1a" stroke-width="1.2" fill="none"/>
<line x1="241.80" y1="639.70" x2="254.20" y2="639.70" stroke="#1a1a1a" stroke-width="1.0"/>
<line x1="248.00" y1="633.50" x2="248.00" y2="645.90" stroke="#1a1a1a" stroke-width="1.0"/>
<circle cx="248.00" cy="718.00" r="6.20" stroke="#1a1a1a" stroke-width="1.2" fill="none"/>
<line x1="241.80" y1="718.00" x2="254.20" y2="718.00" stroke="#1a1a1a" stroke-width="1.0"/>
<line x1="248.00" y1="711.80" x2="248.00" y2="724.20" stroke="#1a1a1a" stroke-width="1.0"/>
<circle cx="338.60" cy="639.40" r="6.20" stroke="#1a1a1a" stroke-width="1.2" fill="none"/>
<line x1="332.40" y1="639.40" x2="344.80" y2="639.40" stroke="#1a1a1a" stroke-width="1.0"/>
<line x1="338.60" y1="633.20" x2="338.60" y2="645.60" stroke="#1a1a1a" stroke-width="1.0"/>
<circle cx="338.80" cy="718.00" r="6.20" stroke="#1a1a1a" stroke-width="1.2" fill="none"/>
<line x1="332.60" y1="718.00" x2="345.00" y2="718.00" stroke="#1a1a1a" stroke-width="1.0"/>
<line x1="338.80" y1="711.80" x2="338.80" y2="724.20" stroke="#1a1a1a" stroke-width="1.0"/>
<circle cx="293.80" cy="650.00" r="6.90" stroke="#1a1a1a" stroke-width="1.2" fill="none"/>
<line x1="283.30" y1="650.00" x2="304.30" y2="650.00" stroke="#1a1a1a" stroke-width="1.2"/>
<line x1="293.80" y1="639.50" x2="293.80" y2="660.50" stroke="#1a1a1a" stroke-width="1.2"/>
<path d="M284.71,644.75 A10.5,10.5 0 0 1 293.80,639.50" stroke="#1a1a1a" stroke-width="1.2" fill="none" stroke-linejoin="round"/>
<path d="M299.05,640.91 A10.5,10.5 0 0 1 304.30,650.00" stroke="#1a1a1a" stroke-width="1.2" fill="none" stroke-linejoin="round"/>
<path d="M302.89,655.25 A10.5,10.5 0 0 1 293.80,660.50" stroke="#1a1a1a" stroke-width="1.2" fill="none" stroke-linejoin="round"/>
<path d="M288.55,659.09 A10.5,10.5 0 0 1 283.30,650.00" stroke="#1a1a1a" stroke-width="1.2" fill="none" stroke-linejoin="round"/>
<circle cx="276.50" cy="677.00" r="6.90" stroke="#1a1a1a" stroke-width="1.2" fill="none"/>
<line x1="266.00" y1="677.00" x2="287.00" y2="677.00" stroke="#1a1a1a" stroke-width="1.2"/>
<line x1="276.50" y1="666.50" x2="276.50" y2="687.50" stroke="#1a1a1a" stroke-width="1.2"/>
<path d="M267.41,671.75 A10.5,10.5 0 0 1 276.50,666.50" stroke="#1a1a1a" stroke-width="1.2" fill="none" stroke-linejoin="round"/>
<path d="M281.75,667.91 A10.5,10.5 0 0 1 287.00,677.00" stroke="#1a1a1a" stroke-width="1.2" fill="none" stroke-linejoin="round"/>
<path d="M285.59,682.25 A10.5,10.5 0 0 1 276.50,687.50" stroke="#1a1a1a" stroke-width="1.2" fill="none" stroke-linejoin="round"/>
<path d="M271.25,686.09 A10.5,10.5 0 0 1 266.00,677.00" stroke="#1a1a1a" stroke-width="1.2" fill="none" stroke-linejoin="round"/>
<circle cx="310.80" cy="677.00" r="6.90" stroke="#1a1a1a" stroke-width="1.2" fill="none"/>
<line x1="300.30" y1="677.00" x2="321.30" y2="677.00" stroke="#1a1a1a" stroke-width="1.2"/>
<line x1="310.80" y1="666.50" x2="310.80" y2="687.50" stroke="#1a1a1a" stroke-width="1.2"/>
<path d="M301.71,671.75 A10.5,10.5 0 0 1 310.80,666.50" stroke="#1a1a1a" stroke-width="1.2" fill="none" stroke-linejoin="round"/>
<path d="M316.05,667.91 A10.5,10.5 0 0 1 321.30,677.00" stroke="#1a1a1a" stroke-width="1.2" fill="none" stroke-linejoin="round"/>
<path d="M319.89,682.25 A10.5,10.5 0 0 1 310.80,687.50" stroke="#1a1a1a" stroke-width="1.2" fill="none" stroke-linejoin="round"/>
<path d="M305.55,686.09 A10.5,10.5 0 0 1 300.30,677.00" stroke="#1a1a1a" stroke-width="1.2" fill="none" stroke-linejoin="round"/>
<circle cx="254.00" cy="694.50" r="6.90" stroke="#1a1a1a" stroke-width="1.2" fill="none"/>
<line x1="243.50" y1="694.50" x2="264.50" y2="694.50" stroke="#1a1a1a" stroke-width="1.2"/>
<line x1="254.00" y1="684.00" x2="254.00" y2="705.00" stroke="#1a1a1a" stroke-width="1.2"/>
<path d="M244.91,689.25 A10.5,10.5 0 0 1 254.00,684.00" stroke="#1a1a1a" stroke-width="1.2" fill="none" stroke-linejoin="round"/>
<path d="M259.25,685.41 A10.5,10.5 0 0 1 264.50,694.50" stroke="#1a1a1a" stroke-width="1.2" fill="none" stroke-linejoin="round"/>
<path d="M263.09,699.75 A10.5,10.5 0 0 1 254.00,705.00" stroke="#1a1a1a" stroke-width="1.2" fill="none" stroke-linejoin="round"/>
<path d="M248.75,703.59 A10.5,10.5 0 0 1 243.50,694.50" stroke="#1a1a1a" stroke-width="1.2" fill="none" stroke-linejoin="round"/>
<circle cx="334.20" cy="694.50" r="6.90" stroke="#1a1a1a" stroke-width="1.2" fill="none"/>
<line x1="323.70" y1="694.50" x2="344.70" y2="694.50" stroke="#1a1a1a" stroke-width="1.2"/>
<line x1="334.20" y1="684.00" x2="334.20" y2="705.00" stroke="#1a1a1a" stroke-width="1.2"/>
<path d="M325.11,689.25 A10.5,10.5 0 0 1 334.20,684.00" stroke="#1a1a1a" stroke-width="1.2" fill="none" stroke-linejoin="round"/>
<path d="M339.45,685.41 A10.5,10.5 0 0 1 344.70,694.50" stroke="#1a1a1a" stroke-width="1.2" fill="none" stroke-linejoin="round"/>
<path d="M343.29,699.75 A10.5,10.5 0 0 1 334.20,705.00" stroke="#1a1a1a" stroke-width="1.2" fill="none" stroke-linejoin="round"/>
<path d="M328.95,703.59 A10.5,10.5 0 0 1 323.70,694.50" stroke="#1a1a1a" stroke-width="1.2" fill="none" stroke-linejoin="round"/>
<line x1="338.60" y1="639.40" x2="352.40" y2="607.80" stroke="#1a1a1a" stroke-width="1"/>
<line x1="352.40" y1="607.50" x2="399.60" y2="607.50" stroke="#1a1a1a" stroke-width="1.3"/>
<text x="0" y="0" transform="translate(355 605.2) scale(0.89 1)" font-size="9" text-anchor="start" font-weight="bold" fill="#1a1a1a">4–</text>
<circle cx="368.60" cy="601.90" r="2.40" stroke="#1a1a1a" stroke-width="0.9" fill="none"/>
<line x1="366.20" y1="605.70" x2="371.10" y2="598.30" stroke="#1a1a1a" stroke-width="0.9"/>
<text x="0" y="0" transform="translate(374.6 605.2) scale(0.89 1)" font-size="9" text-anchor="start" font-weight="bold" fill="#1a1a1a">7</text>
<path transform="translate(379.80 598.00) scale(0.8300)" d="M0.8,1.2 L2,2.4 M0.3,4.2 L2,4.2 L2,8.2 M0.8,9.6 Q2,8 3,8.8 Q5,9.8 10,9.6 M4,0.8 L9,0.8 L7,2.4 M4.2,8.4 L4.2,3 L9.4,3 L9.4,8.6 M6.8,3 L6.8,8.4 M4.2,5.4 L9.4,5.4 M4.2,7 L9.4,7" stroke="#1a1a1a" stroke-width="1.81" fill="none"/>
<path transform="translate(388.27 598.00) scale(0.8300)" d="M0.4,1 L4.6,1 L2.6,3.2 M2.6,3.2 L2.6,9.6 L1.4,9 M0,5.4 L5,5 M6.6,0.4 L6.6,8.8 L9.8,8.8 L9.8,6.6" stroke="#1a1a1a" stroke-width="1.81" fill="none"/>
<line x1="90.50" y1="748.00" x2="90.50" y2="863.00" stroke="#1a1a1a" stroke-width="1"/>
<line x1="101.50" y1="706.20" x2="101.50" y2="847.60" stroke="#1a1a1a" stroke-width="1"/>
<line x1="217.50" y1="738.00" x2="217.50" y2="833.60" stroke="#1a1a1a" stroke-width="1"/>
<line x1="249.50" y1="724.00" x2="249.50" y2="817.70" stroke="#1a1a1a" stroke-width="1"/>
<line x1="253.50" y1="701.00" x2="253.50" y2="749.00" stroke="#1a1a1a" stroke-width="1"/>
<line x1="276.50" y1="687.00" x2="277.00" y2="760.50" stroke="#1a1a1a" stroke-width="1"/>
<line x1="293.80" y1="660.00" x2="294.40" y2="772.50" stroke="#1a1a1a" stroke-width="1"/>
<line x1="310.80" y1="683.00" x2="311.30" y2="788.50" stroke="#1a1a1a" stroke-width="1"/>
<line x1="334.50" y1="701.00" x2="334.50" y2="803.30" stroke="#1a1a1a" stroke-width="1"/>
<line x1="339.50" y1="723.00" x2="339.50" y2="816.70" stroke="#1a1a1a" stroke-width="1"/>
<line x1="367.80" y1="737.00" x2="368.80" y2="833.40" stroke="#1a1a1a" stroke-width="1"/>
<line x1="487.90" y1="705.00" x2="488.40" y2="846.50" stroke="#1a1a1a" stroke-width="1"/>
<line x1="500.50" y1="748.20" x2="500.50" y2="861.00" stroke="#1a1a1a" stroke-width="1"/>
<line x1="240.00" y1="749.50" x2="274.00" y2="749.50" stroke="#1a1a1a" stroke-width="1"/>
<line x1="217.50" y1="760.50" x2="277.00" y2="760.50" stroke="#1a1a1a" stroke-width="1.1"/>
<line x1="249.30" y1="772.50" x2="294.40" y2="772.50" stroke="#1a1a1a" stroke-width="1.2"/>
<line x1="249.30" y1="788.50" x2="311.80" y2="788.50" stroke="#1a1a1a" stroke-width="1.2"/>
<line x1="249.30" y1="803.50" x2="334.70" y2="803.50" stroke="#1a1a1a" stroke-width="1.2"/>
<line x1="249.30" y1="816.50" x2="339.50" y2="816.50" stroke="#1a1a1a" stroke-width="1.2"/>
<line x1="217.50" y1="833.50" x2="368.80" y2="833.50" stroke="#1a1a1a" stroke-width="1.2"/>
<line x1="101.80" y1="847.20" x2="488.40" y2="846.20" stroke="#1a1a1a" stroke-width="1.2"/>
<line x1="90.20" y1="862.30" x2="500.60" y2="860.60" stroke="#1a1a1a" stroke-width="1.3"/>
<text x="0" y="0" transform="translate(269 747.5) scale(0.89 1)" font-size="8.3" text-anchor="middle" font-weight="normal" fill="#1a1a1a">3.2</text>
<text x="0" y="0" transform="translate(233.5 758.8) scale(0.89 1)" font-size="8.3" text-anchor="middle" font-weight="normal" fill="#1a1a1a">18</text>
<text x="0" y="0" transform="translate(263 758.8) scale(0.89 1)" font-size="8.3" text-anchor="middle" font-weight="normal" fill="#1a1a1a">16.7</text>
<text x="0" y="0" transform="translate(272 770.8) scale(0.89 1)" font-size="8.3" text-anchor="middle" font-weight="normal" fill="#1a1a1a">27</text>
<text x="0" y="0" transform="translate(281 785.8) scale(0.89 1)" font-size="8.3" text-anchor="middle" font-weight="normal" fill="#1a1a1a">37.3</text>
<text x="0" y="0" transform="translate(292.5 801) scale(0.89 1)" font-size="8.3" text-anchor="middle" font-weight="normal" fill="#1a1a1a">50.8</text>
<text x="0" y="0" transform="translate(294.5 814.6) scale(0.89 1)" font-size="8.3" text-anchor="middle" font-weight="normal" fill="#1a1a1a">54</text>
<text x="0" y="0" transform="translate(296.5 830.5) scale(0.89 1)" font-size="8.3" text-anchor="middle" font-weight="normal" fill="#1a1a1a">90</text>
<text x="0" y="0" transform="translate(293.5 842.8) scale(0.89 1)" font-size="9.2" text-anchor="middle" font-weight="normal" fill="#1a1a1a" stroke="#1a1a1a" stroke-width="0.3">MIN 224</text>
<text x="0" y="0" transform="translate(294.5 858.6) scale(0.89 1)" font-size="9.2" text-anchor="middle" font-weight="normal" fill="#1a1a1a" stroke="#1a1a1a" stroke-width="0.3">MAX 234</text>
<line x1="531.80" y1="618.50" x2="560.00" y2="618.50" stroke="#444" stroke-width="1"/>
<line x1="563.00" y1="618.50" x2="566.00" y2="618.50" stroke="#444" stroke-width="1"/>
<line x1="569.00" y1="618.50" x2="622.80" y2="618.50" stroke="#444" stroke-width="1"/>
<line x1="531.50" y1="618.20" x2="531.50" y2="669.00" stroke="#444" stroke-width="1"/>
<line x1="531.50" y1="709.50" x2="531.50" y2="762.50" stroke="#444" stroke-width="1"/>
<line x1="622.50" y1="618.20" x2="622.50" y2="762.50" stroke="#333" stroke-width="1"/>
<line x1="531.80" y1="736.50" x2="643.00" y2="736.50" stroke="#333" stroke-width="1"/>
<circle cx="571.00" cy="677.60" r="38.00" stroke="#333" stroke-width="1.1" fill="none"/>
<circle cx="571.00" cy="677.60" r="35.30" stroke="#444" stroke-width="1.0" fill="none"/>
<circle cx="571.00" cy="677.60" r="24.20" stroke="#444" stroke-width="1.0" fill="none"/>
<circle cx="571.00" cy="677.60" r="22.30" stroke="#333" stroke-width="1.1" fill="none"/>
<path transform="translate(571 677.6) rotate(0)" d="M-4.5,-24.2 L-4.5,-27.3 L4.5,-27.3 L4.5,-24.2" stroke="#333" stroke-width="1.0" fill="none" stroke-linejoin="round"/>
<path transform="translate(571 677.6) rotate(45)" d="M-4.5,-24.2 L-4.5,-27.3 L4.5,-27.3 L4.5,-24.2" stroke="#333" stroke-width="1.0" fill="none" stroke-linejoin="round"/>
<path transform="translate(571 677.6) rotate(90)" d="M-4.5,-24.2 L-4.5,-27.3 L4.5,-27.3 L4.5,-24.2" stroke="#333" stroke-width="1.0" fill="none" stroke-linejoin="round"/>
<path transform="translate(571 677.6) rotate(135)" d="M-4.5,-24.2 L-4.5,-27.3 L4.5,-27.3 L4.5,-24.2" stroke="#333" stroke-width="1.0" fill="none" stroke-linejoin="round"/>
<path transform="translate(571 677.6) rotate(180)" d="M-4.5,-24.2 L-4.5,-27.3 L4.5,-27.3 L4.5,-24.2" stroke="#333" stroke-width="1.0" fill="none" stroke-linejoin="round"/>
<path transform="translate(571 677.6) rotate(225)" d="M-4.5,-24.2 L-4.5,-27.3 L4.5,-27.3 L4.5,-24.2" stroke="#333" stroke-width="1.0" fill="none" stroke-linejoin="round"/>
<path transform="translate(571 677.6) rotate(270)" d="M-4.5,-24.2 L-4.5,-27.3 L4.5,-27.3 L4.5,-24.2" stroke="#333" stroke-width="1.0" fill="none" stroke-linejoin="round"/>
<path transform="translate(571 677.6) rotate(315)" d="M-4.5,-24.2 L-4.5,-27.3 L4.5,-27.3 L4.5,-24.2" stroke="#333" stroke-width="1.0" fill="none" stroke-linejoin="round"/>
<line x1="532.00" y1="677.50" x2="547.40" y2="677.50" stroke="#1a1a1a" stroke-width="1.1"/>
<line x1="561.40" y1="677.50" x2="581.90" y2="677.50" stroke="#1a1a1a" stroke-width="1.1"/>
<line x1="594.40" y1="677.50" x2="641.80" y2="677.50" stroke="#1a1a1a" stroke-width="1.1"/>
<line x1="614.00" y1="677.60" x2="641.80" y2="677.60" stroke="#1a1a1a" stroke-width="1.4"/>
<line x1="571.50" y1="618.00" x2="571.50" y2="636.00" stroke="#444" stroke-width="1" stroke-dasharray="2,2"/>
<line x1="571.50" y1="655.00" x2="571.50" y2="698.50" stroke="#1a1a1a" stroke-width="1.1"/>
<line x1="571.50" y1="716.50" x2="571.50" y2="750.80" stroke="#1a1a1a" stroke-width="1.1"/>
<line x1="641.50" y1="677.60" x2="641.50" y2="736.10" stroke="#444" stroke-width="1"/>
<line x1="531.80" y1="749.50" x2="571.00" y2="749.50" stroke="#333" stroke-width="1"/>
<line x1="531.80" y1="762.50" x2="622.80" y2="762.50" stroke="#1a1a1a" stroke-width="1.1"/>
<text x="0" y="0" transform="translate(640 706) rotate(-90) scale(0.89 1)" font-size="8.2" text-anchor="middle" font-weight="normal" fill="#1a1a1a">36</text>
<text x="0" y="0" transform="translate(550.5 747.3) scale(0.89 1)" font-size="8.3" text-anchor="middle" font-weight="normal" fill="#333">23.5</text>
<text x="0" y="0" transform="translate(577.8 760.5) scale(0.89 1)" font-size="8.3" text-anchor="middle" font-weight="normal" fill="#444">55</text>
</svg>
<div class="t" style="top:5.5px">MTCV–03AX</div>
<div class="t" style="top:32px">MTCV–03AY</div>
<div class="t" style="top:59px">MTCV–03BX</div>
<div class="t" style="top:85px">MTCV–03BY</div>
<div class="t" style="top:559px">MTCV–03WX</div>
<div class="t" style="top:584px">MTCV–03WY</div>
</body></html>
